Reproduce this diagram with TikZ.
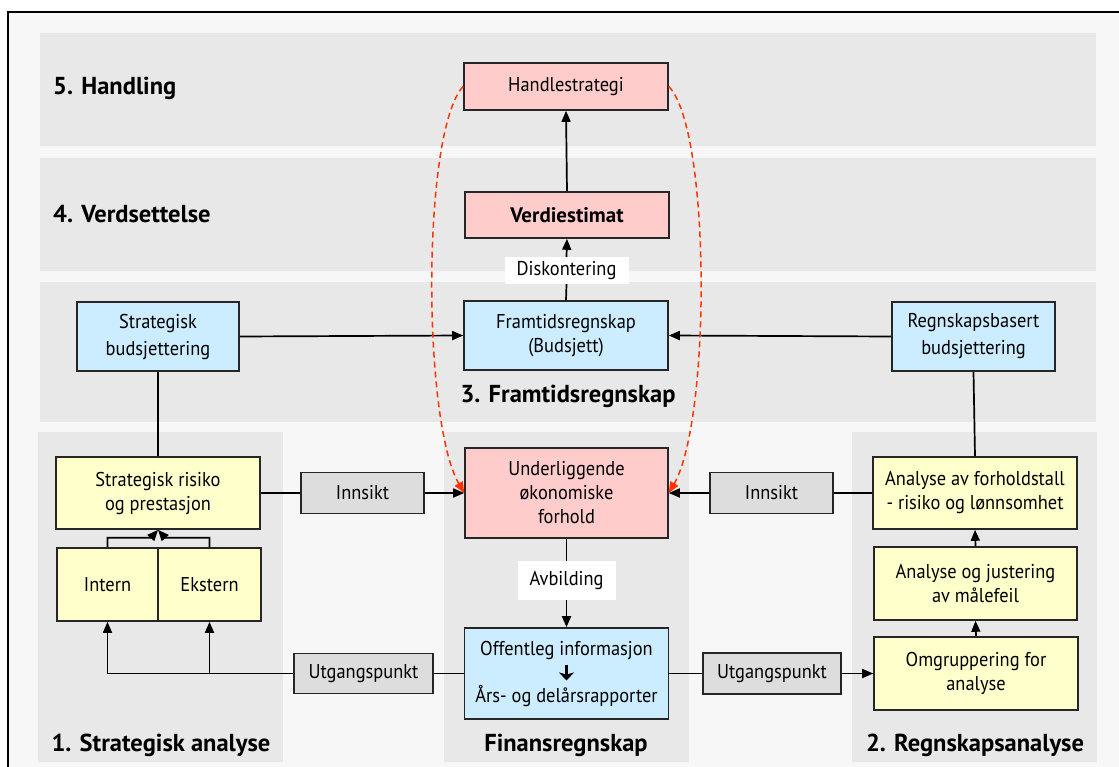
\documentclass[tikz,border=0pt]{standalone}
\usepackage{fontspec}
\setmainfont[FakeStretch=0.92]{PT Sans}
\newfontfamily\titlefont{PT Sans}
\usetikzlibrary{arrows.meta,calc}

\definecolor{paper}{HTML}{F7F7F7}
\definecolor{band}{HTML}{E8E8E8}
\definecolor{pinkbox}{HTML}{FFCCCC}
\definecolor{bluebox}{HTML}{CCECFF}
\definecolor{yellowbox}{HTML}{FFFFCC}
\definecolor{greybox}{HTML}{DDDDDD}
\definecolor{dashred}{HTML}{FF3300}

\begin{document}
\begin{tikzpicture}[x=1pt,y=-1pt,
  box/.style={draw=black!85, line width=1.6pt, align=center, inner sep=0pt,
    font=\fontsize{20}{24}\selectfont},
  size/.style 2 args={minimum width=#1pt, minimum height=#2pt},
  pink/.style={box, fill=pinkbox},
  blue/.style={box, fill=bluebox},
  yellow/.style={box, fill=yellowbox},
  grey/.style={box, fill=greybox},
  tag/.style={fill=white, inner sep=0pt, align=center, font=\fontsize{20}{24}\selectfont},
  title/.style={font=\titlefont\fontsize{24.5}{28}\selectfont\bfseries, inner sep=0pt},
  conn/.style={line width=1.7pt},
  arr/.style={conn, -{Triangle[length=11pt,width=9pt]}},
  feedback/.style={draw=dashred, line width=1.5pt, dash pattern=on 6pt off 4pt,
    -{Triangle[length=11pt,width=9pt,fill=dashred]}}
]
\useasboundingbox (0,0) rectangle (1119,767);

% paper and frame
\fill[white] (0,0) rectangle (1119,767);
\fill[paper] (8,12) rectangle (1119,767);
\draw[line width=2pt] (8,767) -- (8,12) -- (1119,12);

% horizontal bands and vertical panels
\fill[band] (40,33) rectangle (1096,146);
\fill[band] (40,158) rectangle (1096,271);
\fill[band] (40,282) rectangle (1096,422);
\fill[band] (38,432) rectangle (283,762);
\fill[band] (444,432) rectangle (689,762);
\fill[band] (852,432) rectangle (1097,762);

% section titles
\node[title, anchor=west] (t5) at (53,88) {5. Handling};
\node[title, anchor=west] (t4) at (53,214) {4. Verdsettelse};
\node[title] (t3) at (568,396) {3. Framtidsregnskap};
\node[title] (t1) at (161,745) {1. Strategisk analyse};
\node[title] (tf) at (566,745) {Finansregnskap};
\node[title] (t2) at (975,745) {2. Regnskapsanalyse};

% boxes
\node[pink, size={204}{47}] (hs) at (566,86.5) {Handlestrategi};
\node[pink, size={204}{46}, font=\titlefont\fontsize{21}{24}\selectfont\bfseries] (ve) at (567,215) {Verdiestimat};
\node[blue, size={204}{69}] (fr) at (566,335.5) {Framtidsregnskap\\(Budsjett)};
\node[blue, size={162}{69}, font=\fontsize{20}{27}\selectfont] (sb) at (158,336.5) {Strategisk\\budsjettering};
\node[blue, size={163}{69}, font=\fontsize{20}{27}\selectfont] (rb) at (973.5,336.5) {Regnskapsbasert\\budsjettering};
\node[pink, size={203}{90}] (und) at (566.5,493) {Underliggende\\økonomiske\\forhold};
\node[yellow, size={204}{72}] (srp) at (158,493) {Strategisk risiko\\og prestasjon};
\node[grey, size={123}{41}] (inL) at (362.5,493) {Innsikt};
\node[grey, size={123}{41}] (inR) at (771.5,493) {Innsikt};
\node[yellow, size={204}{72}] (afl) at (975,493) {Analyse av forholdstall\\- risiko og lønnsomhet};
\node[yellow, size={101}{73}] (intern) at (107.5,584.5) {Intern};
\node[yellow, size={103}{73}] (ekstern) at (209.5,584.5) {Ekstern};
\node[yellow, size={203}{73}] (ajm) at (975.5,583.5) {Analyse og justering\\av målefeil};
\node[blue, size={204}{91}] (off) at (566.5,673.5)
  {Offentleg informasjon\\[23pt]Års- og delårsrapporter};
\node[grey, size={139}{40}] (utL) at (363.5,673.5) {Utgangspunkt};
\node[grey, size={138}{41}] (utR) at (772,673.5) {Utgangspunkt};
\node[yellow, size={204}{73}] (omg) at (976,673.5) {Omgruppering for\\analyse};

% bold arrow between the two lines of the public information box
\draw[line width=3.8pt, -{Stealth[length=8pt,width=15pt,inset=2pt]}]
  ($(off.center)+(0,-9)$) -- ($(off.center)+(0,7)$);

% connector labels
\node[tag, size={124}{27}] (disk) at (566.5,270.5) {Diskontering};
\node[tag, size={98}{39}] (avb) at (566.5,580.5) {Avbilding};

% vertical chain in the centre
\draw[arr] (ve.north) -- (hs.south);
\draw[conn] (fr.north) -- (disk.south);
\draw[arr] (disk.north) -- (ve.south);
\draw[conn] (und.south) -- (avb.north);
\draw[arr] (avb.south) -- (off.north);

% budgeting into the future accounts
\draw[arr] (sb.east) -- (fr.west);
\draw[arr] (rb.west) -- (fr.east);
\draw[conn] (sb.south) -- (srp.north);
\draw[conn] (rb.south) -- (afl.north);

% insight into the underlying conditions
\draw[conn] (srp.east) -- (inL.west);
\draw[arr] (inL.east) -- (und.west);
\draw[conn] (afl.west) -- (inR.east);
\draw[arr] (inR.west) -- (und.east);

% starting points from the public information
\draw[conn] (off.west) -- (utL.east);
\draw[arr] (utL.west) -| (intern.south);
\draw[arr] (ekstern.south |- utL.west) -- (ekstern.south);
\draw[conn] (off.east) -- (utR.west);
\draw[arr] (utR.east) -- (omg.west);

% accounting analysis chain
\draw[arr] (omg.north) -- (ajm.south);
\draw[arr] (ajm.north) -- (afl.south);

% internal and external analysis feeding strategic risk
\draw[arr] (intern.north) |- ($(srp.south)+(-7,8)$) -- (srp.south);
\draw[arr] (ekstern.north) |- ($(srp.south)+(7,8)$) -- (srp.south);

% feedback from action strategy to underlying conditions
\draw[feedback] (hs.west) .. controls (422,130) and (422,420) .. (und.west);
\draw[feedback] (hs.east) .. controls (711,130) and (711,420) .. (und.east);
\end{tikzpicture}
\end{document}
